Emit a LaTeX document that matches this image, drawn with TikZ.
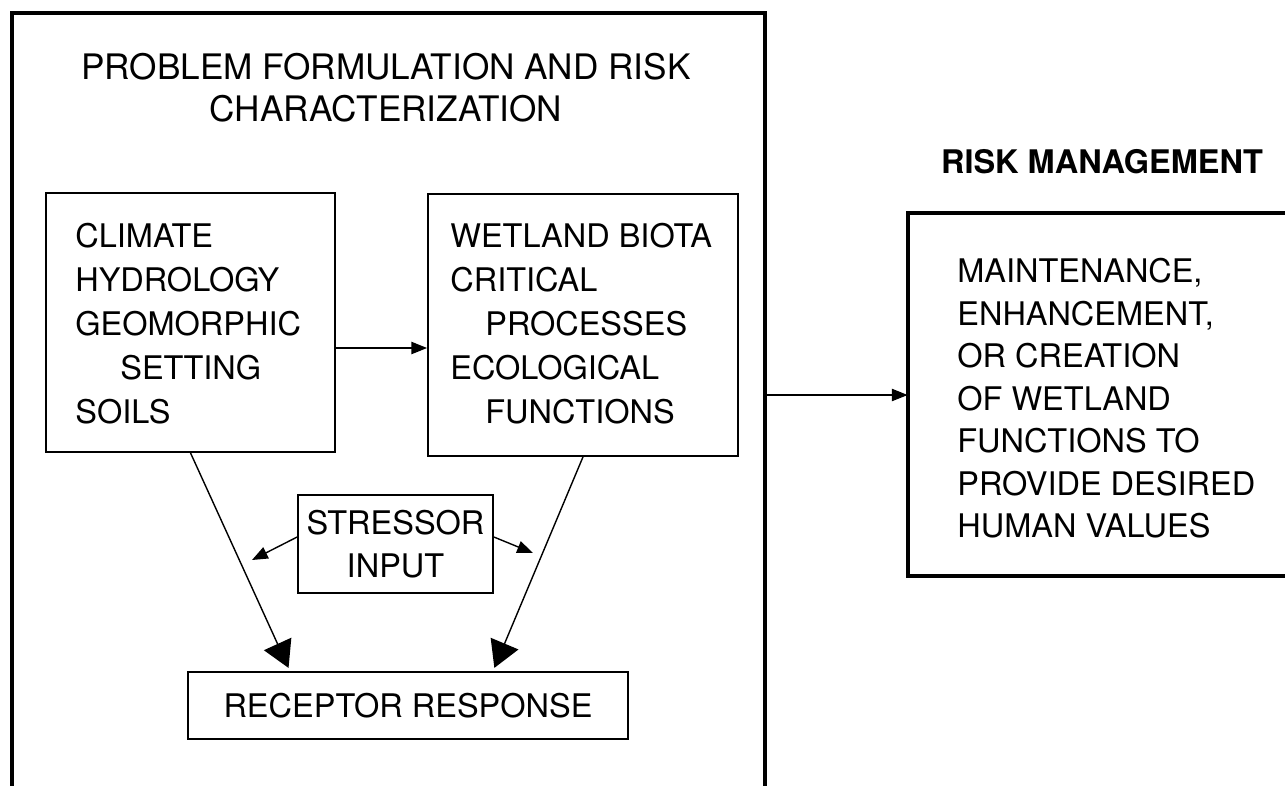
\documentclass[tikz,border=0pt]{standalone}
\usepackage{fontspec}
\setmainfont{TeX Gyre Heros}
\usetikzlibrary{arrows.meta,fit}

\begin{document}
\begin{tikzpicture}[x=0.02cm,y=-0.02cm,
    every node/.style={font=\fontsize{18.5}{25}\selectfont},
    box/.style={draw,line width=1pt,inner sep=0pt},
    frame/.style={line width=2.3pt},
    txt/.style={align=left,anchor=north west,inner sep=0pt},
    arr/.style={line width=.8pt,-{Triangle[length=9pt,width=7pt]}},
    bigarr/.style={line width=.8pt,shorten >=2pt,-{Triangle[length=15pt,width=17pt]}}]
  \useasboundingbox (0,0) rectangle (1285,785);
  % left frame, open at the bottom
  \node[fit={(12,13) (765,795)},inner sep=0pt] (pfrc) {};
  \draw[frame] (pfrc.south west) -- (pfrc.north west) -- (pfrc.north east) -- (pfrc.south east);
  \node[align=center,font=\fontsize{20}{23.9}\selectfont] (pfrctitle) at (386,88)
    {PROBLEM FORMULATION AND RISK\\CHARACTERIZATION};
  % inner boxes
  \node[box,fit={(46,193) (335,452)}] (climate) {};
  \node[txt] (climatetxt) at (75,223)
    {CLIMATE\\HYDROLOGY\\GEOMORPHIC\\\hspace*{0.9cm}SETTING\\SOILS};
  \node[box,fit={(428,194) (738,456)}] (wetland) {};
  \node[txt] (wetlandtxt) at (450,223)
    {WETLAND BIOTA\\CRITICAL\\\hspace*{0.7cm}PROCESSES\\ECOLOGICAL\\\hspace*{0.7cm}FUNCTIONS};
  \node[box,fit={(298,495) (493,593)}] (stressor) {};
  \node[align=center,font=\fontsize{18.5}{24.5}\selectfont] (stressortxt) at (stressor) {STRESSOR\\INPUT};
  \node[box,fit={(188,672) (628,739)}] (receptor) {};
  \node (receptortxt) at (receptor) {RECEPTOR RESPONSE};
  % right part
  \node[font=\fontsize{18.5}{24}\selectfont\bfseries] (rmtitle) at (1102,162) {RISK MANAGEMENT};
  \node[fit={(908,213) (1295,576)},inner sep=0pt] (mgmt) {};
  \draw[frame] (mgmt.north east) -- (mgmt.north west) -- (mgmt.south west) -- (mgmt.south east);
  \node[txt,font=\fontsize{18.5}{24.2}\selectfont] (mgmttxt) at (957,258)
    {MAINTENANCE,\\ENHANCEMENT,\\OR CREATION\\OF WETLAND\\FUNCTIONS TO\\PROVIDE DESIRED\\HUMAN VALUES};
  % connectors
  \coordinate (stleft) at (252,560);
  \coordinate (stright) at (533,553);
  \draw[arr] (climate.east |- 0,348) -- (wetland.west |- 0,348);
  \draw[arr] (pfrc.east |- 0,395) -- (mgmt.west |- 0,395);
  \draw[arr] (stressor.west |- 0,537) -- (stleft);
  \draw[arr] (stressor.east |- 0,537) -- (stright);
  \draw[bigarr] (climate.south) -- (receptor.north -| 290,0);
  \draw[bigarr] (wetland.south) -- (receptor.north -| 493,0);
\end{tikzpicture}
\end{document}
